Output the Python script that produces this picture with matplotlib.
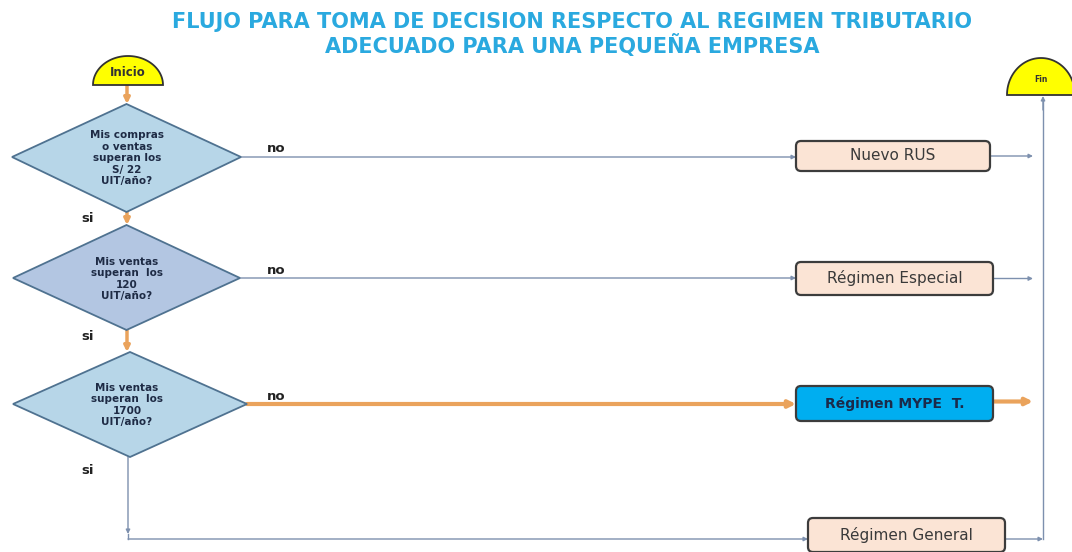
import numpy as np
import matplotlib
matplotlib.use("Agg")
import matplotlib.pyplot as plt
from matplotlib.patches import Polygon, FancyBboxPatch

plt.rcParams['font.family'] = ['DejaVu Sans']

# ---- content ----
title_lines = ["FLUJO PARA TOMA DE DECISION RESPECTO AL REGIMEN TRIBUTARIO",
               "ADECUADO PARA UNA PEQUEÑA EMPRESA"]
start_label = "Inicio"
end_label = "Fin"
questions = [["Mis compras", "o ventas", "superan los", "S/ 22", "UIT/año?"],
             ["Mis ventas", "superan  los", "120", "UIT/año?"],
             ["Mis ventas", "superan  los", "1700", "UIT/año?"]]
results = ["Nuevo RUS", "Régimen Especial", "Régimen MYPE  T.", "Régimen General"]
yes_label = "si"
no_label = "no"

# ---- layout (pixels) ----
diam_cy = [157, 278, 404]
diam_left = [12, 13, 13]
diam_right = [241, 240, 247]
diam_top = [104, 225, 352]
diam_bot = [212, 330, 457]
diam_fill = ['#b7d6e8', '#b3c6e2', '#b7d6e8']
box_x = [796, 796, 796, 808]
box_w = [194, 197, 197, 197]
box_y = [141, 262, 386, 518]
box_h = [30, 33, 35, 34]
box_fill = ['#fbe4d5', '#fbe4d5', '#00aef0', '#fbe4d5']
line_c = '#7d90ae'
orange = '#eaa35c'

fig = plt.figure(figsize=(10.72, 5.52), dpi=100)
ax = fig.add_axes([0, 0, 1, 1])
ax.set_xlim(0, 1072)
ax.set_ylim(552, 0)
ax.axis('off')

# title
for i, t in enumerate(title_lines):
    ax.text(572, 22 + i * 24, t, ha='center', va='center', fontsize=15,
            fontweight='bold', color='#2aa9df')


def dome(cx, bottom, hw, h, label, fs):
    th = np.linspace(0, np.pi, 60)
    pts = np.column_stack([cx + hw * np.cos(th), bottom - h * np.sin(th)])
    ax.add_patch(Polygon(pts, closed=True, fc='#ffff00', ec='#333333', lw=1.3, zorder=3))
    ax.text(cx, bottom - h * 0.42, label, ha='center', va='center', fontsize=fs,
            fontweight='bold', color='#333333', zorder=4)


def arrow(x0, y0, x1, y1, color=line_c, lw=1.0, hs=6):
    ax.annotate('', xy=(x1, y1), xytext=(x0, y0),
                arrowprops=dict(arrowstyle='-|>', color=color, lw=lw,
                                mutation_scale=hs, shrinkA=0, shrinkB=0), zorder=2)


dome(128, 85, 35, 29, start_label, 8.5)
dome(1041, 95, 34, 37, end_label, 5.5)

# start arrow
arrow(127, 85, 127, 104, orange, 2.5, 8)

for i, q in enumerate(questions):
    cx = (diam_left[i] + diam_right[i]) / 2
    pts = [(cx, diam_top[i]), (diam_right[i], diam_cy[i]),
           (cx, diam_bot[i]), (diam_left[i], diam_cy[i])]
    ax.add_patch(Polygon(pts, closed=True, fc=diam_fill[i], ec='#4f7290', lw=1.3, zorder=3))
    n = len(q)
    for j, s in enumerate(q):
        ax.text(127, diam_cy[i] + 1 + (j - (n - 1) / 2) * 11.5, s, ha='center', va='center',
                fontsize=7.5, fontweight='bold', color='#1e2b45', zorder=4)
    # no branch
    ax.text(267, diam_cy[i] - 8, no_label, ha='left', va='center', fontsize=9.5,
            fontweight='bold', color='#222222')
    if i == 2:
        arrow(diam_right[i], diam_cy[i], box_x[i], diam_cy[i], orange, 3, 10)
    else:
        arrow(diam_right[i], diam_cy[i], box_x[i], diam_cy[i], line_c, 1.0, 6)
    # yes label
    ax.text(88, diam_bot[i] + 6 + (8 if i == 2 else 0), yes_label, ha='center', va='center',
            fontsize=9.5, fontweight='bold', color='#222222')

# yes connectors
arrow(127, diam_bot[0], 127, diam_top[1], orange, 2.5, 8)
arrow(127, diam_bot[1], 127, diam_top[2], orange, 2.5, 8)
arrow(128, diam_bot[2], 128, 534, line_c, 1.0, 6)
ax.plot([128, 128], [534, 539], color=line_c, lw=1.0)
arrow(128, 539, box_x[3], 539, line_c, 1.0, 6)

# result boxes
for i, r in enumerate(results):
    ax.add_patch(FancyBboxPatch((box_x[i], box_y[i]), box_w[i], box_h[i],
                                boxstyle='round,pad=0,rounding_size=5',
                                fc=box_fill[i], ec='#3c3c3c', lw=1.6, zorder=3))
    bold = i == 2
    ax.text(box_x[i] + box_w[i] / 2, box_y[i] + box_h[i] / 2, r, ha='center', va='center',
            fontsize=11 if not bold else 10, fontweight='bold' if bold else 'medium',
            color='#1b2a4a' if bold else '#3a3a3a', zorder=4)
    y = box_y[i] + box_h[i] / 2
    if i == 2:
        arrow(box_x[i] + box_w[i], y - 2, 1033, y - 2, orange, 3, 10)
    elif i == 3:
        arrow(box_x[i] + box_w[i], 539, 1043, 539, line_c, 1.0, 6)
    else:
        arrow(box_x[i] + box_w[i], y, 1033, y, line_c, 1.0, 6)

# return line to end
ax.plot([1043, 1043], [539, 100], color=line_c, lw=1.0)
arrow(1043, 110, 1043, 96, line_c, 1.0, 6)

fig.savefig('out.png', dpi=100)
